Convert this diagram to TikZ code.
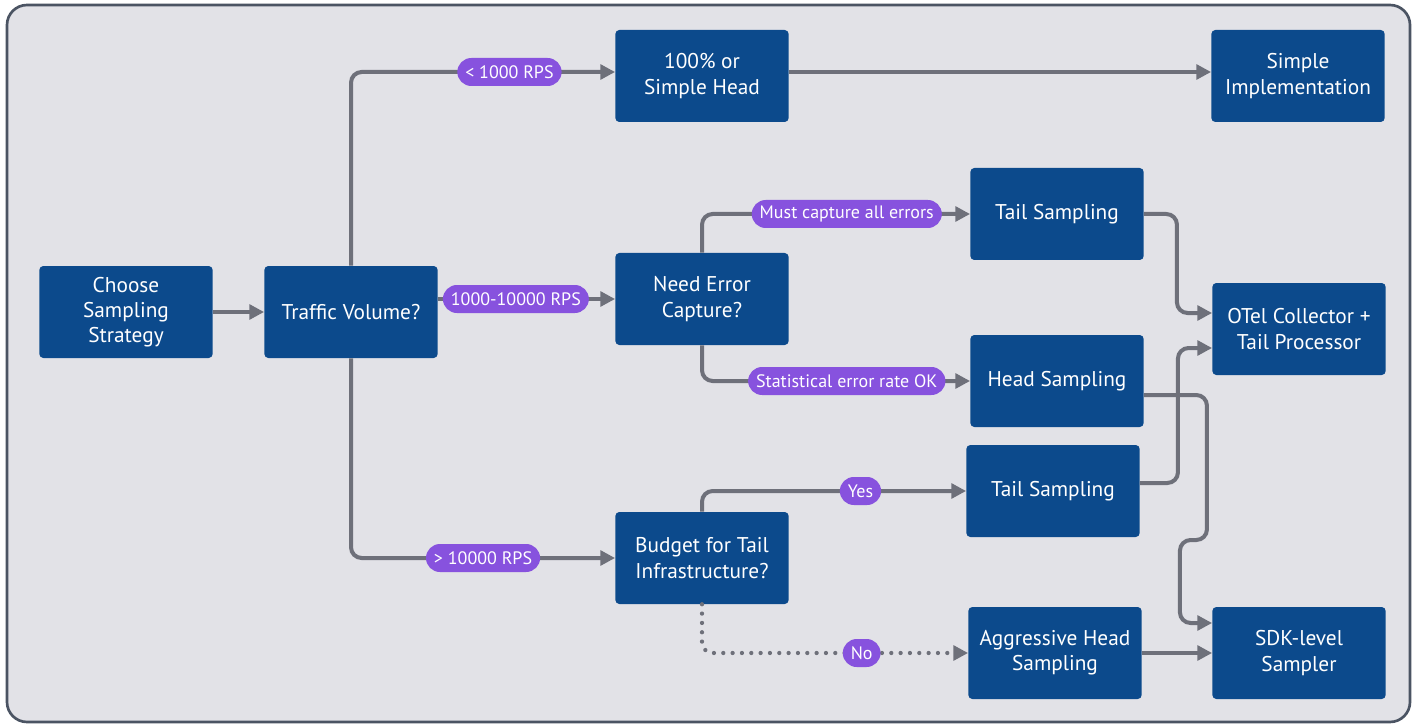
\documentclass[tikz,border=0pt]{standalone}
\usepackage{fontspec}
\setmainfont{PT Sans}
\usetikzlibrary{arrows.meta,calc}
\definecolor{boxblue}{RGB}{12,74,140}
\definecolor{pillpurple}{RGB}{135,82,222}
\definecolor{conngray}{RGB}{110,112,122}
\definecolor{bgfill}{RGB}{226,226,231}
\definecolor{framegray}{RGB}{75,84,99}

\begin{document}
\begin{tikzpicture}[x=0.75pt,y=-0.75pt,
    stepbox/.style={fill=boxblue, text=white, rounded corners=3pt, minimum width=130pt,
      minimum height=69pt, align=center, font=\fontsize{16}{19}\selectfont},
    pill/.style={fill=pillpurple, text=white, rounded corners=10.5pt, minimum height=21pt,
      inner xsep=6pt, inner ysep=2pt, font=\fontsize{13.5}{15}\selectfont},
    conn/.style={draw=conngray, line width=3pt, rounded corners=8pt,
      -{Triangle[length=11pt,width=11pt]}},
    dotconn/.style={conn, line width=3.2pt, line cap=round, dash pattern=on 0pt off 7pt}]

    % Frame
    \fill[white] (0,0) rectangle (1416,727);
    \useasboundingbox (0,0) rectangle (1416,727);
    \draw[draw=framegray, line width=2pt, fill=bgfill, rounded corners=15pt] (7,5) rectangle (1410,722);

    % Steps
    \node[stepbox] (choose)  at (126,312)  {Choose\\Sampling\\Strategy};
    \node[stepbox] (traffic) at (351,312)  {Traffic Volume?};
    \node[stepbox] (simpleh) at (702,76)   {100\% or\\Simple Head};
    \node[stepbox] (impl)    at (1298,76)  {Simple\\Implementation};
    \node[stepbox] (need)    at (702,299)  {Need Error\\Capture?};
    \node[stepbox] (tailA)   at (1057,214) {Tail Sampling};
    \node[stepbox] (head)    at (1057,381) {Head Sampling};
    \node[stepbox] (otel)    at (1299,329) {OTel Collector +\\Tail Processor};
    \node[stepbox] (tailB)   at (1053,491) {Tail Sampling};
    \node[stepbox] (budget)  at (702,558)  {Budget for Tail\\Infrastructure?};
    \node[stepbox] (aggr)    at (1055,653) {Aggressive Head\\Sampling};
    \node[stepbox] (sdk)     at (1299,653) {SDK-level\\Sampler};

    % Traffic volume
    \draw[conn] (choose) -- (traffic);
    \draw[conn] (traffic.north) |- node[pill, pos=0.8] {< 1000 RPS} ($(simpleh.west)+(0,-4)$);
    \draw[conn] (traffic.east |- need.west) -- node[pill, pos=0.44] {1000-10000 RPS} (need.west);
    \draw[conn] (traffic.south) |- node[pill, pos=0.75] {> 10000 RPS} (budget.west);
    \draw[conn] ($(simpleh.east)+(0,-4)$) -- ($(impl.west)+(0,-4)$);

    % Error capture
    \draw[conn] (need.north) |- node[pill, pos=0.77] {Must capture all errors} (tailA.west);
    \draw[conn] (need.south) |- node[pill, pos=0.77] {Statistical error rate OK} (head.west);

    % Budget
    \draw[conn] (budget.north) |- node[pill, pos=0.8] {Yes} (tailB.west);
    \draw[dotconn] (budget.south) |- node[pill, pos=0.8] {No} (aggr.west);

    % Right side
    \draw[conn] (tailA.east) -- ++(33,0) |- ($(otel.west)+(0,-16)$);
    \draw[conn] ($(tailB.east)+(0,-8)$) -- ++(38,0) |- ($(otel.west)+(0,19)$);
    \draw[conn] ($(head.east)+(0,14)$) -- ++(63,0) -- ++(0,145) -- ++(-27,0) |- ($(sdk.west)+(0,-30)$);
    \draw[conn] (aggr) -- (sdk);
\end{tikzpicture}
\end{document}
